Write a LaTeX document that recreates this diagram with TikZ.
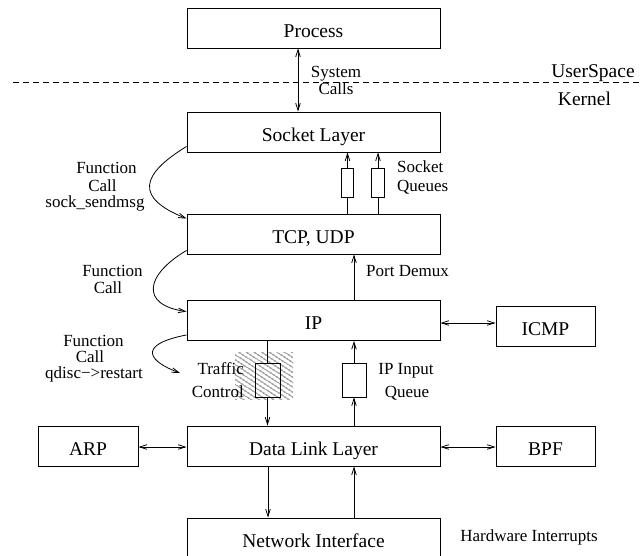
\documentclass[tikz,border=0pt]{standalone}
\usepackage{fontspec}
\setmainfont{Liberation Serif}
\usetikzlibrary{arrows.meta,patterns.meta}
\newcommand\BoxFont{\fontsize{19.5}{22}\selectfont}
\newcommand\LblFont{\fontsize{17}{19}\selectfont}
\begin{document}
\begin{tikzpicture}[x=1pt,y=-1pt,
  >={Straight Barb[length=7pt,width=4.5pt]},
  conn/.style={line width=0.8pt},
  box/.style={draw,line width=0.9pt,inner sep=0pt,minimum height=40pt,text height=19pt,text depth=0pt,font=\BoxFont},
  mainbox/.style={box,minimum width=253pt},
  sidebox/.style={box,minimum width=99pt},
  queue/.style={draw,line width=0.8pt,inner sep=0pt},
  lbl/.style={font=\LblFont,inner sep=0pt,anchor=base},
  biglbl/.style={font=\BoxFont,inner sep=0pt,anchor=base}]
\useasboundingbox (0,0) rectangle (641,556);

% boxes
\node[mainbox] (proc) at (313.5,28) {Process};
\node[mainbox] (sock) at (313.5,132) {Socket Layer};
\node[mainbox] (tcp) at (313.5,234) {TCP, UDP};
\node[mainbox] (ip) at (313.5,320.5) {IP};
\node[sidebox] (icmp) at (545.5,326) {ICMP};
\node[mainbox] (dll) at (313.5,446) {Data Link Layer};
\node[box,minimum width=100pt] (arp) at (88,446) {ARP};
\node[sidebox] (bpf) at (545.5,446) {BPF};
\node[mainbox] (ni) at (313.5,538) {Network Interface};

% user / kernel boundary
\coordinate (dashL) at (13,82);
\coordinate (dashR) at (641,82);
\draw[dash pattern=on 6pt off 4pt,line width=0.8pt] (dashL) -- (dashR);
\node[biglbl] (us) at (593,78) {UserSpace};
\node[biglbl] (kern) at (584.5,106) {Kernel};

% system calls
\coordinate (sysx) at (298,0);
\draw[conn,<->] (proc.south -| sysx) -- (sock.north -| sysx);
\node[lbl] (sys1) at (336,78) {System};
\node[lbl] (sys2) at (336,94.5) {Calls};

% socket queues
\node[queue,minimum width=12.5pt,minimum height=29pt] (q1) at (347.5,182.5) {};
\node[queue,minimum width=12.5pt,minimum height=29pt] (q2) at (378,182.5) {};
\draw[conn] (q1.south |- tcp.north) -- (q1.south);
\draw[conn,->] (q1.north) -- (q1.north |- sock.south);
\draw[conn] (q2.south |- tcp.north) -- (q2.south);
\draw[conn,->] (q2.north) -- (q2.north |- sock.south);
\node[lbl,anchor=base west] (sq1) at (397,173) {Socket};
\node[lbl,anchor=base west] (sq2) at (397,192) {Queues};

% port demux
\coordinate (pdx) at (354,0);
\draw[conn,->] (ip.north -| pdx) -- (tcp.south -| pdx);
\node[lbl] (pd) at (407.5,277) {Port Demux};

% IP - ICMP
\coordinate (icy) at (0,323);
\draw[conn,<->] (ip.east |- icy) -- (icmp.west |- icy);

% traffic control
\node[inner sep=0pt,minimum width=58pt,minimum height=47pt,
      pattern={Lines[angle=-33,distance=4pt,line width=0.55pt]}] (hatch) at (264,376.5) {};
\node[queue,minimum width=25pt,minimum height=34pt] (tc) at (267.5,380) {};
\draw[conn] (ip.south -| tc) -- (tc.north);
\draw[conn,->] (tc.south) -- (dll.north -| tc);
\node[lbl,anchor=base east] (tr1) at (244,375) {Traffic};
\node[lbl,anchor=base east] (tr2) at (244,398) {Control};

% IP input queue
\node[queue,minimum width=24pt,minimum height=34pt] (ipq) at (354,380) {};
\draw[conn,->] (dll.north -| ipq) -- (ipq.south);
\draw[conn,->] (ipq.north) -- (ip.south -| ipq);
\node[lbl] (ipi1) at (406,375) {IP Input};
\node[lbl] (ipi2) at (407,398) {Queue};

% data link side boxes
\coordinate (dly) at (0,447);
\draw[conn,<->] (arp.east |- dly) -- (dll.west |- dly);
\draw[conn,<->] (dll.east |- dly) -- (bpf.west |- dly);

% data link - network interface
\coordinate (dnx) at (268,0);
\draw[conn,->] (dll.south -| dnx) -- (ni.north -| dnx);
\draw[conn,->] (ni.north -| pdx) -- (dll.south -| pdx);
\node[lbl] (hw) at (529,541) {Hardware Interrupts};

% function calls
\draw[conn,->] ([yshift=6pt]sock.south west) .. controls (140,175) and (135,198) .. ([yshift=-5pt]tcp.north west);
\node[lbl] (f1a) at (106.5,174) {Function};
\node[lbl] (f1b) at (102.5,192) {Call};
\node[lbl] (f1c) at (95,208) {sock\_sendmsg};

\draw[conn,->] ([yshift=4pt]tcp.south west) .. controls (145,275) and (140,305) .. ([yshift=-11.5pt]ip.north west);
\node[lbl] (f2a) at (112.5,277) {Function};
\node[lbl] (f2b) at (108,294) {Call};

\coordinate (c3e) at (180,373);
\draw[conn,->] ([yshift=6pt]ip.south west) .. controls (135,345) and (150,362) .. (c3e);
\node[lbl] (f3a) at (93.5,347) {Function};
\node[lbl] (f3b) at (90,363) {Call};
\node[lbl] (f3c) at (94,379) {qdisc−>restart};
\end{tikzpicture}
\end{document}
